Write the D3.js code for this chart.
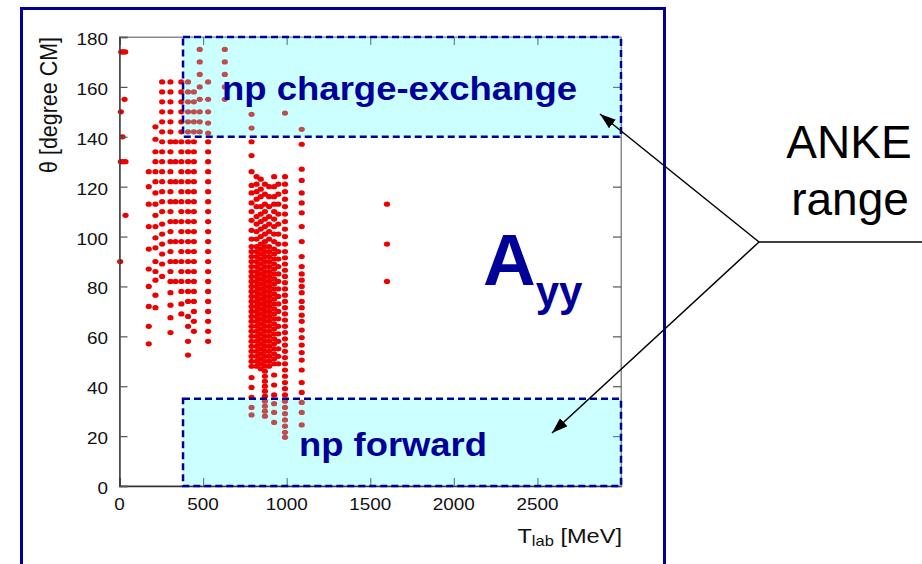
<!DOCTYPE html>
<html>
<head>
<meta charset="utf-8">
<script src="https://cdn.jsdelivr.net/npm/d3@7"></script>
<style>
  html, body { margin: 0; padding: 0; background: #fff; }
  svg { display: block; font-family: "Liberation Sans", Arial, sans-serif; }
</style>
</head>
<body>
<svg id="chart" width="922" height="564"></svg>
<script>
// Axis ticks
const xTicks = [0, 500, 1000, 1500, 2000, 2500];
const yTicks = [0, 20, 40, 60, 80, 100, 120, 140, 160, 180];

// ANKE acceptance windows: [Tmin, Tmax, thetaMin, thetaMax]
const chargeExchangeWindow = [380, 3000, 140, 180];
const forwardWindow = [380, 3000, 0, 35];

// Isolated low-energy measurements [T_lab MeV, theta deg]
const lowEnergyPoints = [
  [10, 174], [22, 174], [34, 174], [30, 155], [8, 150], [18, 140],
  [8, 130], [22, 130], [36, 130], [36, 108.5], [4, 90]
];

// Energy columns of the A_yy data base (MeV)
const scanEnergies = [175, 215, 255, 305, 335, 370, 410, 445, 480, 530, 630,
                      790, 820, 845, 870, 895, 925, 950, 990, 1090, 1600];

// CM angles measured at each energy (deg)
const scanAngles = [
  [126, 120, 113, 104, 95, 87, 80, 72, 64, 57],
  [144, 139, 134, 130, 126, 122, 117.5, 113, 108.5, 104, 99.5, 95.5, 90, 86, 82.5, 76.5, 71.5],
  [162, 158, 154, 150, 146, 142, 138, 134, 130, 126, 122, 118, 114, 110, 105, 101, 97, 93, 89, 84],
  [162, 158, 154, 150, 146, 142, 138, 134, 130, 126, 122, 118, 114, 110, 106, 102, 98, 94, 90, 86, 82, 77.5, 72.5, 67.5, 61.5],
  [138, 130, 122, 114, 106, 98, 90, 82],
  [162, 158, 154, 150, 146, 142, 138, 134, 130, 126, 122, 118, 114, 110, 106, 102, 98, 94, 90, 86, 82, 78, 73, 69],
  [162, 158, 154, 150, 146, 142, 138, 134, 130, 126, 122, 118, 114, 110, 106, 102, 98, 94, 90, 86, 82, 78, 74, 68, 64, 58, 52.5],
  [158, 154, 150, 146, 142, 138, 134, 130, 126, 122, 118, 114, 110, 106, 102, 98, 94, 90, 86, 82, 78, 74, 70, 66, 62],
  [175, 170, 165, 160, 155, 150, 146, 142],
  [162, 155, 150, 145.5, 141.5, 138, 134, 130, 126, 122, 118, 114, 110, 106, 102, 98, 94, 90, 86, 82, 78, 74, 70, 66, 62, 58],
  [175, 170, 165, 160, 155],
  [149, 143.5, 138, 132.5, 126, 120.5, 117.5, 113.5, 110, 106.5, 102.5, 99, 96, 94, 92, 90, 88, 86, 84, 82, 80, 78, 76, 74, 72, 70, 68, 66, 64, 62, 60, 58, 56, 54, 52, 50, 48, 43.5, 39.5, 35.5, 31.5, 28.5],
  [124, 121, 118, 115, 112, 108, 105, 102, 99, 96, 94, 92, 90, 88, 86, 84, 82, 80, 78, 76, 74, 72, 70, 68, 66, 64, 62, 60, 58, 56, 54, 52, 50, 48],
  [123, 119, 116, 112, 109, 106, 103, 100, 97, 95, 93, 91, 89, 87, 85, 83, 81, 79, 77, 75, 73, 71, 69, 67, 65, 63, 61, 59, 57, 55, 53, 51, 49, 47],
  [121, 117, 113, 110, 107, 104, 101, 98, 96, 94, 92, 90, 88, 86, 84, 82, 80, 78, 76, 74, 72, 70, 68, 66, 64, 62, 60, 58, 56, 54, 52, 50, 48, 46, 44, 42, 40, 38, 36, 34, 32, 30, 28],
  [120, 116, 112, 108, 105, 102, 99, 96, 94, 92, 90, 88, 86, 84, 82, 80, 78, 76, 74, 72, 70, 68, 66, 64, 62, 60, 58, 56, 54, 52, 50, 48],
  [124, 120, 116, 113, 110, 107, 104, 101, 98, 95, 93, 91, 89, 87, 85, 83, 81, 79, 77, 75, 73, 71, 69, 67, 65, 63, 61, 59, 57, 55, 53, 51, 49, 44.5, 40.5, 36.5, 33, 29.5, 25.5],
  [121, 117, 113, 109, 105, 101, 97, 94, 91, 88, 85, 82, 79, 76, 73, 70, 67, 64, 61, 58, 55, 52, 49],
  [149.5, 124, 121, 118, 115, 112, 109, 106, 103, 100, 97, 94, 91.5, 89, 86.5, 84, 81.5, 79, 76.5, 74, 71.5, 69, 66.5, 64, 61.5, 59, 56.5, 54, 51.5, 49, 46.5, 44, 41.5, 39, 36.5, 34, 31.5, 29, 26.5, 24, 21.5, 19.5],
  [143, 137, 127, 122.5, 117.5, 113.5, 109.5, 104, 98, 92, 88, 85, 82.5, 80, 77.5, 74, 71.5, 68.5, 66, 62.5, 59.5, 56.5, 53.5, 50.5, 46.5, 41.5, 37.5, 33.5, 29.5, 24.5],
  [113, 97, 82]
];

const points = lowEnergyPoints.slice();
scanEnergies.forEach((t, i) => scanAngles[i].forEach(th => points.push([t, th])));

const svg = d3.select("#chart");
const navy = "#000099";
const sx = 1.18; // horizontal stretch of the plot lettering

const x = d3.scaleLinear().domain([0, 3000]).range([119.5, 621]);
const y = d3.scaleLinear().domain([0, 180]).range([486, 37]);

// slide frame
svg.append("rect")
  .attr("x", 21.5).attr("y", 8.5).attr("width", 643).attr("height", 620)
  .attr("fill", "none").attr("stroke", navy).attr("stroke-width", 3);

const defs = svg.append("defs");
defs.append("filter").attr("id", "soft")
  .append("feGaussianBlur").attr("stdDeviation", 0.35);
defs.append("marker")
  .attr("id", "head").attr("viewBox", "0 0 16 11")
  .attr("refX", 16).attr("refY", 5.5)
  .attr("markerWidth", 16).attr("markerHeight", 11)
  .attr("markerUnits", "userSpaceOnUse").attr("orient", "auto")
  .append("path").attr("d", "M0,0 L16,5.5 L0,11 Z").attr("fill", "#000");

// data points
svg.append("g").attr("filter", "url(#soft)")
  .selectAll("ellipse").data(points).join("ellipse")
  .attr("cx", d => x(d[0])).attr("cy", d => y(d[1]))
  .attr("rx", 3.1).attr("ry", 2.6)
  .attr("fill", "#ee0000");

// plot box and mirrored inward ticks
const tickColor = "#555";
svg.append("rect")
  .attr("x", x(0)).attr("y", y(180))
  .attr("width", x(3000) - x(0)).attr("height", y(0) - y(180))
  .attr("fill", "none").attr("stroke", "#888").attr("stroke-width", 1);

const axes = [
  { axis: d3.axisBottom(x), t: `translate(0,${y(0)})` },
  { axis: d3.axisTop(x), t: `translate(0,${y(180)})` },
  { axis: d3.axisLeft(y), t: `translate(${x(0)},0)` },
  { axis: d3.axisRight(y), t: `translate(${x(3000)},0)` }
];
axes.forEach((a, i) => {
  const isX = i < 2;
  const g = svg.append("g").attr("transform", a.t)
    .call(a.axis.tickValues(isX ? xTicks : yTicks).tickSize(-8).tickFormat(""));
  g.selectAll(".tick line").attr("stroke", tickColor).attr("stroke-width", 1.2);
  g.select(".domain").attr("stroke", i === 0 || i === 2 ? "#333" : "#888").attr("stroke-width", i === 0 || i === 2 ? 1.4 : 1);
});

// tick labels
svg.append("g").selectAll("text").data(yTicks).join("text")
  .attr("transform", d => `translate(108,${y(d) + 8}) scale(${sx},1)`)
  .attr("text-anchor", "end").attr("font-size", 16).attr("fill", "#111")
  .text(d => d);
svg.append("g").selectAll("text").data(xTicks).join("text")
  .attr("transform", d => `translate(${x(d)},510) scale(${sx},1)`)
  .attr("text-anchor", "middle").attr("font-size", 16).attr("fill", "#111")
  .text(d => d);

// axis titles
const xt = svg.append("text")
  .attr("transform", `translate(622,543) scale(${sx},1)`)
  .attr("text-anchor", "end").attr("font-size", 20).attr("fill", "#111");
xt.append("tspan").text("T");
xt.append("tspan").attr("font-size", 14).attr("dy", 3).text("lab");
xt.append("tspan").attr("dy", -3).text(" [MeV]");

svg.append("text")
  .attr("transform", `translate(57,105) scale(${sx},1) rotate(-90)`)
  .attr("text-anchor", "middle").attr("font-size", 19.5).attr("fill", "#111")
  .attr("textLength", 136).attr("lengthAdjust", "spacingAndGlyphs")
  .text("θ [degree CM]");

// ANKE windows drawn over the data
[chargeExchangeWindow, forwardWindow].forEach(w => {
  svg.append("rect")
    .attr("x", x(w[0])).attr("y", y(w[3]))
    .attr("width", x(w[1]) - x(w[0])).attr("height", y(w[2]) - y(w[3]))
    .attr("fill", "#55ffff").attr("fill-opacity", 0.3)
    .attr("stroke", navy).attr("stroke-width", 2.5)
    .attr("stroke-dasharray", "7,4");
});

// window labels
svg.append("text").attr("x", 222).attr("y", 100)
  .attr("font-size", 33).attr("font-weight", "bold").attr("fill", navy)
  .attr("textLength", 355).attr("lengthAdjust", "spacingAndGlyphs")
  .text("np charge-exchange");
svg.append("text").attr("x", 299).attr("y", 456)
  .attr("font-size", 33).attr("font-weight", "bold").attr("fill", navy)
  .attr("textLength", 188).attr("lengthAdjust", "spacingAndGlyphs")
  .text("np forward");

// observable label
const ayy = svg.append("text").attr("x", 483).attr("y", 285)
  .attr("font-weight", "bold").attr("fill", navy);
ayy.append("tspan").attr("font-size", 73).text("A");
ayy.append("tspan").attr("font-size", 42).attr("dy", 21).text("yy");

// callout
const hub = [759, 242];
svg.append("line").attr("x1", hub[0]).attr("y1", hub[1]).attr("x2", 922).attr("y2", hub[1])
  .attr("stroke", "#000").attr("stroke-width", 1.5);
[[600, 114], [552, 433]].forEach(p => {
  svg.append("line").attr("x1", hub[0]).attr("y1", hub[1]).attr("x2", p[0]).attr("y2", p[1])
    .attr("stroke", "#000").attr("stroke-width", 1.5).attr("marker-end", "url(#head)");
});
svg.append("text").attr("x", 849).attr("y", 158).attr("text-anchor", "middle")
  .attr("font-size", 46).attr("fill", "#000").text("ANKE");
svg.append("text").attr("x", 850).attr("y", 215).attr("text-anchor", "middle")
  .attr("font-size", 46).attr("fill", "#000").text("range");
</script>
</body>
</html>
